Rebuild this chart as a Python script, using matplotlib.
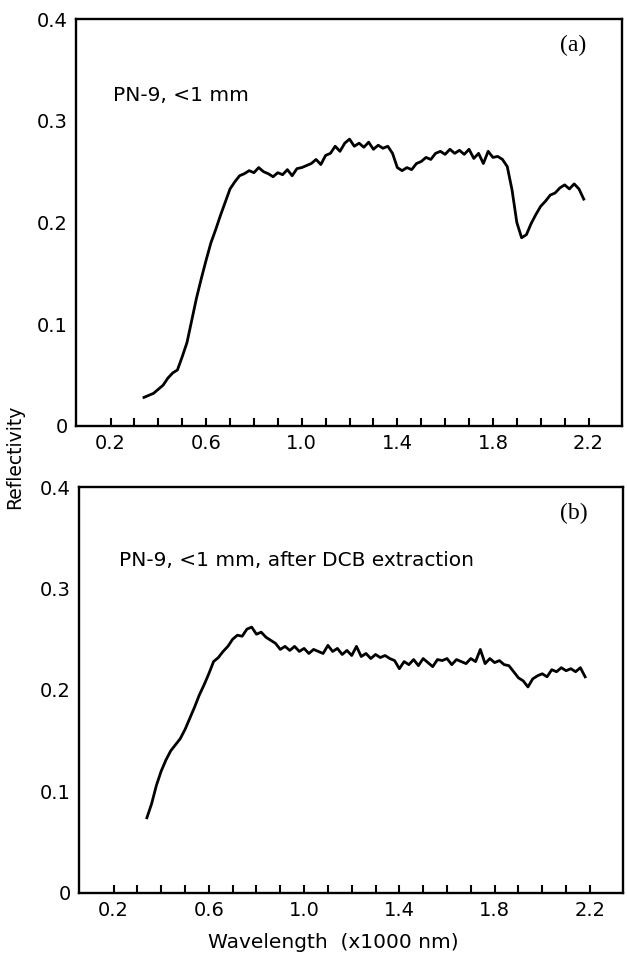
import matplotlib.pyplot as plt
import numpy as np

# wavelength grid (x1000 nm), both spectra sampled the same way
wavelength = np.round(np.arange(0.34, 2.1801, 0.02), 2)

# (a) PN-9, <1 mm
refl_a = [0.028, 0.030, 0.032, 0.036, 0.040, 0.047, 0.052, 0.055, 0.068, 0.082,
          0.104, 0.126, 0.145, 0.163, 0.180, 0.193, 0.207, 0.220, 0.233, 0.240,
          0.246, 0.248, 0.251, 0.249, 0.254, 0.250, 0.248, 0.245, 0.249, 0.247,
          0.252, 0.246, 0.253, 0.254, 0.256, 0.258, 0.262, 0.257, 0.266, 0.268,
          0.275, 0.270, 0.278, 0.282, 0.275, 0.278, 0.274, 0.279, 0.272, 0.276,
          0.273, 0.275, 0.268, 0.254, 0.251, 0.254, 0.252, 0.258, 0.260, 0.264,
          0.262, 0.268, 0.270, 0.267, 0.272, 0.268, 0.271, 0.267, 0.272, 0.263,
          0.268, 0.258, 0.270, 0.264, 0.265, 0.262, 0.255, 0.232, 0.200, 0.185,
          0.188, 0.199, 0.208, 0.216, 0.221, 0.227, 0.229, 0.234, 0.237, 0.233,
          0.238, 0.233, 0.223]

# (b) PN-9, <1 mm, after DCB extraction
refl_b = [0.074, 0.088, 0.106, 0.120, 0.131, 0.140, 0.146, 0.152, 0.161, 0.172,
          0.183, 0.195, 0.205, 0.216, 0.228, 0.232, 0.238, 0.243, 0.250, 0.254,
          0.253, 0.260, 0.262, 0.255, 0.257, 0.252, 0.249, 0.246, 0.240, 0.243,
          0.239, 0.243, 0.238, 0.241, 0.236, 0.240, 0.238, 0.236, 0.244, 0.238,
          0.241, 0.235, 0.239, 0.234, 0.243, 0.233, 0.236, 0.231, 0.235, 0.232,
          0.234, 0.231, 0.229, 0.221, 0.228, 0.225, 0.230, 0.224, 0.231, 0.227,
          0.223, 0.230, 0.229, 0.231, 0.225, 0.230, 0.228, 0.226, 0.231, 0.228,
          0.240, 0.226, 0.231, 0.227, 0.229, 0.225, 0.224, 0.218, 0.212, 0.209,
          0.203, 0.211, 0.214, 0.216, 0.213, 0.220, 0.218, 0.222, 0.219, 0.221,
          0.218, 0.222, 0.213]

labels = ["PN-9, <1 mm", "PN-9, <1 mm, after DCB extraction"]
tags = ["(a)", "(b)"]
label_pos = [(0.068, 0.812), (0.074, 0.820)]

xticks = [0.2, 0.6, 1.0, 1.4, 1.8, 2.2]
xticklabels = ["0.2", "0.6", "1.0", "1.4", "1.8", "2.2"]
xminor = [0.3, 0.4, 0.5, 0.7, 0.8, 0.9, 1.1, 1.2, 1.3, 1.5, 1.6, 1.7,
          1.9, 2.0, 2.1]
yticks = [0, 0.1, 0.2, 0.3, 0.4]
yticklabels = ["0", "0.1", "0.2", "0.3", "0.4"]

fig = plt.figure(figsize=(6.27, 9.57), dpi=100)
ax_a = fig.add_axes([0.121, 0.555, 0.871, 0.425])
ax_b = fig.add_axes([0.126, 0.067, 0.868, 0.424])

for ax, refl, lab, tag, pos in zip([ax_a, ax_b], [refl_a, refl_b], labels, tags, label_pos):
    ax.plot(wavelength, refl, color="black", lw=2.0)
    ax.set_xlim(0.055, 2.34)
    ax.set_ylim(0, 0.4)
    ax.set_xticks(xticks)
    ax.set_xticklabels(xticklabels)
    ax.set_xticks(xminor, minor=True)
    ax.set_yticks(yticks)
    ax.set_yticklabels(yticklabels)
    ax.tick_params(axis="x", which="both", direction="in", length=6, width=1.5,
                   labelsize=14, pad=6)
    ax.tick_params(axis="y", length=0, labelsize=14, pad=6)
    for s in ax.spines.values():
        s.set_linewidth(1.7)
    ax.text(pos[0], pos[1], lab, transform=ax.transAxes, fontsize=14.5,
            va="center")
    ax.text(0.91, 0.935, tag, transform=ax.transAxes, fontsize=17,
            family="Liberation Serif", ha="center", va="center")

fig.text(0.024, 1 - 457 / 957, "Reflectivity", rotation=90, fontsize=13.5,
         ha="center", va="center")
fig.text(0.532, 1 - 943 / 957, "Wavelength  (x1000 nm)", fontsize=14.5,
         ha="center", va="center")

fig.savefig("out.png", dpi=100)
